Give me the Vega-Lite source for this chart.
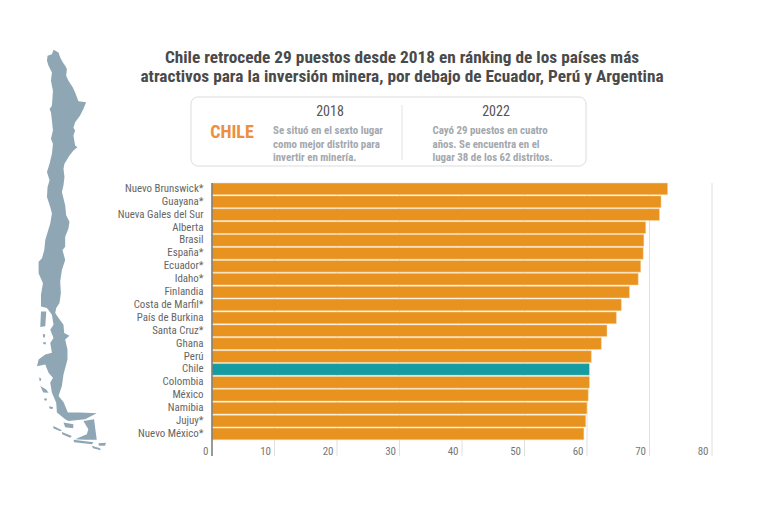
{
 "$schema": "https://vega.github.io/schema/vega-lite/v6.json",
 "background": "white",
 "padding": {"left": 37, "top": 49, "right": 20, "bottom": 20},
 "bounds": "flush",
 "spacing": 106,
 "config": {"view": {"stroke": null}, "font": "Roboto Condensed, Roboto, sans-serif"},
 "hconcat": [
  {
   "width": 69,
   "height": 402,
   "data": {"values": [{"type": "Feature", "properties": {"nombre": "Chile"}, "geometry": {"type": "MultiPolygon", "coordinates": [
    [[[53.3,49],[58.3,51.7],[60,56.7],[62.7,61.7],[65,65],[66.7,68.3],[66,75],[68.3,80],[72.7,86.7],[75,91.7],[78.3,100.7],[86,101.7],[83.3,108.3],[80,115],[75,121.7],[73.3,127.3],[75,130],[73.3,135],[75,145],[77.3,146.7],[73.3,150],[69.3,155],[64.3,163.3],[63.3,168.3],[64.3,176.7],[63.3,185],[61.7,191.7],[65,205],[66,215],[69.3,221.7],[68.3,228.3],[65,236.7],[65,246.7],[62.3,250],[65,260],[61.7,270],[60,281.7],[60.7,293.3],[59.3,303.3],[56,308.3],[55,313.3],[58.3,318.3],[63.3,325],[64,333.3],[69.3,336],[65,340],[67.3,350],[67.3,360],[63.3,375],[61.7,386.7],[58.3,396.7],[63.3,402.7],[67.7,413.3],[80,413.3],[96.7,414],[85,420],[68.3,421.7],[65,420],[56.7,413.3],[56,403.3],[51.7,393.3],[50,383.3],[52.7,378.3],[48.3,373.3],[45,365],[36.7,366.7],[38.3,360],[45,355],[51.7,353.3],[50,343.3],[53.3,338.3],[50,330],[53.3,325],[51.7,315],[46.7,308.3],[40.7,306.7],[40.7,295],[42.7,283.3],[38.3,273.3],[38.3,261.7],[41.7,258.3],[44,250],[45,240],[50,223.3],[51.7,213.3],[50,206.7],[46.7,196.7],[47.3,186.7],[49.3,180],[46.7,171.7],[49.3,163.3],[51.7,153.3],[52.7,143.3],[50.7,138.3],[52.7,130],[51.7,120],[50.7,111.7],[49.3,108.3],[51.7,105],[52.7,90],[50.7,80],[51.7,71.7],[48.3,65],[46.7,60],[47.3,55],[51.7,53.3],[53.3,49]]],
    [[[40.7,311.7],[46,311.7],[45,326.7],[40,327.3],[40.7,311.7]]],
    [[[83.3,421.7],[94,420],[96.7,440.7],[85,440.7],[75,440],[86.7,435],[88.3,430],[83.3,421.7]]],
    [[[63.3,423.3],[73.3,425],[73,429],[65,428],[63.3,423.3]]],
    [[[53.3,426.7],[61.7,431],[60,432],[53,429],[53.3,426.7]]],
    [[[61.7,432.7],[71.7,436.7],[70,438.5],[62,435],[61.7,432.7]]],
    [[[73.3,440.7],[93.3,443],[92,445],[74,443],[73.3,440.7]]],
    [[[98.3,444],[106,443.5],[105,446.5],[99,446.5],[98.3,444]]],
    [[[91.7,446.7],[100,449],[100.7,451],[93,449],[91.7,446.7]]],
    [[[40,386.7],[46,390],[48.3,393.3],[43,393],[40,386.7]]],
    [[[44,399],[47,399.5],[46,401.5],[44,401],[44,399]]],
    [[[49,407],[53,408],[52,410],[49,409],[49,407]]],
    [[[42.5,334],[45,335],[44.5,338],[43,338],[42.5,334]]],
    [[[43,342.5],[46,343],[45,345],[43,344.5],[43,342.5]]],
    [[[39,378],[41,379],[40.5,381.5],[39,381],[39,378]]]
   ]}}]},
   "projection": {"type": "identity"},
   "mark": {"type": "geoshape", "fill": "#8fa7b5", "stroke": null}
  },
  {
   "spacing": 0,
   "vconcat": [
    {
     "width": 500,
     "height": 133,
     "title": {"text": ["Chile retrocede 29 puestos desde 2018 en ránking de los países más", "atractivos para la inversión minera, por debajo de Ecuador, Perú y Argentina"], "anchor": "middle", "align": "center", "dx": -60, "dy": 40, "fontSize": 17.3, "fontWeight": "bold", "lineHeight": 18.5, "color": "#4a4a4a"},
     "layer": [
      {"data": {"values": [{"elemento": "recuadro"}]},
       "mark": {"type": "rect", "fill": "white", "stroke": "#dcdcdc", "strokeWidth": 1, "cornerRadius": 7},
       "encoding": {
        "x": {"datum": -21, "type": "quantitative", "scale": {"domain": [0, 500], "range": [0, 500], "nice": false, "zero": false}, "axis": null},
        "x2": {"datum": 374},
        "y": {"datum": 48, "type": "quantitative", "scale": {"domain": [0, 133], "range": [0, 133], "nice": false, "zero": false}, "axis": null},
        "y2": {"datum": 117}
       }},
      {"data": {"values": [{"elemento": "divisor"}]},
       "mark": {"type": "rule", "stroke": "#e2e2e2", "strokeWidth": 1},
       "encoding": {
        "x": {"datum": 190, "type": "quantitative", "axis": null},
        "y": {"datum": 56, "type": "quantitative", "axis": null},
        "y2": {"datum": 111}
       }},
      {"data": {"values": [{"texto": "CHILE"}]},
       "mark": {"type": "text", "color": "#ec8f3e", "fontSize": 18, "fontWeight": "bold", "align": "center", "baseline": "middle"},
       "encoding": {
        "x": {"datum": 20, "type": "quantitative", "axis": null},
        "y": {"datum": 84, "type": "quantitative", "axis": null},
        "text": {"field": "texto"}
       }},
      {"data": {"values": [{"texto": "2018"}]},
       "mark": {"type": "text", "color": "#555555", "fontSize": 14, "align": "center", "baseline": "middle"},
       "encoding": {
        "x": {"datum": 118, "type": "quantitative", "axis": null},
        "y": {"datum": 63, "type": "quantitative", "axis": null},
        "text": {"field": "texto"}
       }},
      {"data": {"values": [{"texto": "2022"}]},
       "mark": {"type": "text", "color": "#555555", "fontSize": 14, "align": "center", "baseline": "middle"},
       "encoding": {
        "x": {"datum": 284, "type": "quantitative", "axis": null},
        "y": {"datum": 63, "type": "quantitative", "axis": null},
        "text": {"field": "texto"}
       }},
      {"data": {"values": [{"texto": "Se situó en el sexto lugar\ncomo mejor distrito para\ninvertir en minería."}]},
       "mark": {"type": "text", "color": "#a3a8ad", "fontSize": 10.9, "fontWeight": "bold", "align": "left", "baseline": "top", "lineBreak": "\n", "lineHeight": 13.7},
       "encoding": {
        "x": {"datum": 61, "type": "quantitative", "axis": null},
        "y": {"datum": 76, "type": "quantitative", "axis": null},
        "text": {"field": "texto"}
       }},
      {"data": {"values": [{"texto": "Cayó 29 puestos en cuatro\naños. Se encuentra en el\nlugar 38 de los 62 distritos."}]},
       "mark": {"type": "text", "color": "#a3a8ad", "fontSize": 10.9, "fontWeight": "bold", "align": "left", "baseline": "top", "lineBreak": "\n", "lineHeight": 13.7},
       "encoding": {
        "x": {"datum": 220.5, "type": "quantitative", "axis": null},
        "y": {"datum": 76, "type": "quantitative", "axis": null},
        "text": {"field": "texto"}
       }}
     ]
    },
    {
     "width": 500,
     "height": 273,
     "layer": [
      {
       "data": {"values": [{"marca": 10}, {"marca": 20}, {"marca": 30}, {"marca": 40}, {"marca": 50}, {"marca": 60}, {"marca": 70}, {"marca": 80}]},
       "mark": {"type": "rule", "stroke": "#e0e0e0", "strokeWidth": 1},
       "encoding": {"x": {"field": "marca", "type": "quantitative", "scale": {"domain": [0, 80], "nice": false}, "axis": {"title": null, "values": [0, 10, 20, 30, 40, 50, 60, 70, 80], "grid": false, "ticks": false, "domain": false, "labelAlign": "right", "labelBaseline": "middle", "labelOffset": -4, "labelPadding": -5, "labelFontSize": 11, "labelColor": "#777777", "labelBound": false, "labelFlush": false}}}
      },
      {
       "data": {"values": [
        {"distrito": "Nuevo Brunswick*", "puntaje": 72.9},
        {"distrito": "Guayana*", "puntaje": 71.85},
        {"distrito": "Nueva Gales del Sur", "puntaje": 71.6},
        {"distrito": "Alberta", "puntaje": 69.4},
        {"distrito": "Brasil", "puntaje": 69.1},
        {"distrito": "España*", "puntaje": 69.0},
        {"distrito": "Ecuador*", "puntaje": 68.6},
        {"distrito": "Idaho*", "puntaje": 68.2},
        {"distrito": "Finlandia", "puntaje": 66.8},
        {"distrito": "Costa de Marfil*", "puntaje": 65.5},
        {"distrito": "País de Burkina", "puntaje": 64.7},
        {"distrito": "Santa Cruz*", "puntaje": 63.2},
        {"distrito": "Ghana", "puntaje": 62.3},
        {"distrito": "Perú", "puntaje": 60.7},
        {"distrito": "Chile", "puntaje": 60.4},
        {"distrito": "Colombia", "puntaje": 60.4},
        {"distrito": "México", "puntaje": 60.2},
        {"distrito": "Namibia", "puntaje": 60.0},
        {"distrito": "Jujuy*", "puntaje": 59.8},
        {"distrito": "Nuevo México*", "puntaje": 59.5}
       ]},
       "mark": {"type": "bar", "stroke": "#f6dcae", "strokeWidth": 0.5},
       "encoding": {
        "y": {"field": "distrito", "type": "nominal", "sort": null, "scale": {"range": [0, 256.8], "paddingInner": 0.09, "paddingOuter": 0}, "axis": {"title": null, "ticks": false, "domain": false, "labelPadding": 9, "labelFontSize": 10.9, "labelColor": "#666666"}},
        "x": {"field": "puntaje", "type": "quantitative", "scale": {"domain": [0, 80], "nice": false}, "axis": {"title": null, "values": [0, 10, 20, 30, 40, 50, 60, 70, 80], "grid": false, "ticks": false, "domain": false, "labelAlign": "right", "labelBaseline": "middle", "labelOffset": -4, "labelPadding": -5, "labelFontSize": 11, "labelColor": "#777777", "labelBound": false, "labelFlush": false}},
        "color": {"condition": {"test": "datum.distrito === 'Chile'", "value": "#159ca3"}, "value": "#e8921f"}
       }
      },
      {
       "data": {"values": [{"elemento": "eje"}]},
       "mark": {"type": "rule", "stroke": "#777777", "strokeWidth": 1.5},
       "encoding": {"x": {"datum": 0, "type": "quantitative"}}
      }
     ]
    }
   ]
  }
 ]
}
